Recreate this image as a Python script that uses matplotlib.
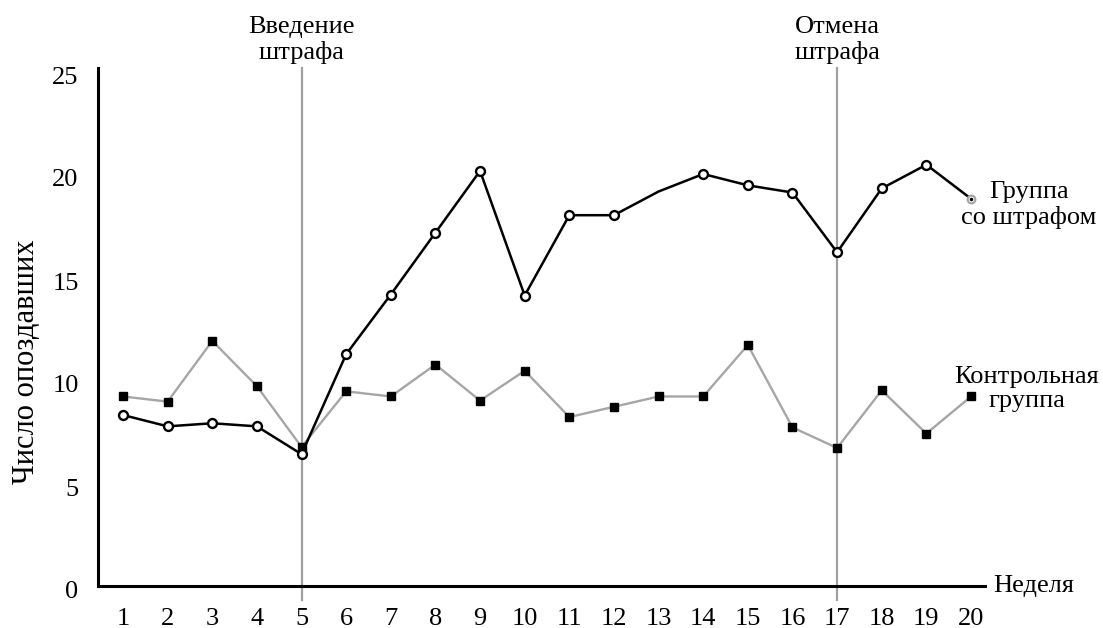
import matplotlib
matplotlib.use("Agg")
import matplotlib.pyplot as plt
import matplotlib.transforms as mtransforms

weeks = list(range(1, 21))
penalty_group = [8.3, 7.75, 7.9, 7.75, 6.4, 11.25, 14.15, 17.15, 20.15, 14.1,
                 18.0, 18.0, 19.15, 20.0, 19.45, 19.1, 16.2, 19.3, 20.45, 18.8]
control_group = [9.2, 8.95, 11.9, 9.7, 6.75, 9.45, 9.2, 10.75, 9.0, 10.45,
                 8.2, 8.7, 9.2, 9.2, 11.7, 7.7, 6.7, 9.5, 7.4, 9.2]
penalty_marked = [True] * 12 + [False] + [True] * 6 + [False]
y_ticks = [0, 5, 10, 15, 20, 25]
events = [5, 17]
event_labels = ["Введение\nштрафа", "Отмена\nштрафа"]
x_label = "Неделя"
y_label = "Число опоздавших"
series_labels = ["Группа\nсо штрафом", "Контрольная\nгруппа"]

plt.rcParams['font.family'] = ['Liberation Serif', 'DejaVu Serif']
FS = 19
LS = 1.15

W, H = 1103, 628
fig = plt.figure(figsize=(W / 100, H / 100), dpi=100)
left_px, right_px, top_px, bottom_px = 98, 985, 68, 586
ax = fig.add_axes([left_px / W, 1 - bottom_px / H,
                   (right_px - left_px) / W, (bottom_px - top_px) / H])

unit_x = (971 - 123) / 19.0
x0 = 1 - (123 - left_px) / unit_x
x1 = 1 + (right_px - 123) / unit_x
unit_y = 20.6
ax.set_xlim(x0, x1)
ax.set_ylim(0, (bottom_px - top_px) / unit_y)

for s in ['top', 'right']:
    ax.spines[s].set_visible(False)
for s in ['left', 'bottom']:
    ax.spines[s].set_linewidth(2.2)
    ax.spines[s].set_color('black')

ax.set_xticks(weeks)
ax.set_xticklabels([str(w) for w in weeks], fontsize=FS)
ax.set_yticks(y_ticks)
ax.set_yticklabels([str(v) for v in y_ticks], fontsize=FS)
ax.tick_params(axis='x', length=0, pad=16)
ax.tick_params(axis='y', length=0, pad=14)
shift = mtransforms.ScaledTranslation(0, -4 / 100, fig.dpi_scale_trans)
for lab in ax.get_yticklabels():
    lab.set_transform(lab.get_transform() + shift)

# event lines
ymin_ev = -14 / unit_y
for ev in events:
    ax.plot([ev, ev], [ymin_ev, ax.get_ylim()[1]], color='#a0a0a0', lw=1.6,
            zorder=1, clip_on=False)

grey = '#a6a6a6'
# control group
ax.plot(weeks, control_group, color=grey, lw=1.7, zorder=2, marker='s',
        ms=5.5, mfc='black', mec='black', clip_on=False)

# penalty group
ax.plot(weeks, penalty_group, color='black', lw=1.8, zorder=3, clip_on=False)
mx = [w for w, m in zip(weeks, penalty_marked) if m]
my = [v for v, m in zip(penalty_group, penalty_marked) if m]
ax.plot(mx, my, ls='none', marker='o', ms=6.4, mfc='white', mec='black',
        mew=1.7, zorder=4, clip_on=False)
ax.plot(weeks[-1:], penalty_group[-1:], ls='none', marker='o', ms=5.5,
        mfc='white', mec=grey, mew=1.6, zorder=4, clip_on=False)
ax.plot(weeks[-1:], penalty_group[-1:], ls='none', marker='o', ms=1.5,
        mfc='black', mec='black', zorder=5, clip_on=False)

# event annotations
trans = mtransforms.blended_transform_factory(ax.transData, fig.transFigure)
for ev, lab in zip(events, event_labels):
    ax.text(ev, 1 - 40 / H, lab, transform=trans, ha='center', va='center',
            fontsize=FS, linespacing=LS)

# series labels
fig.text(1029 / W, 1 - 205 / H, series_labels[0], ha='center', va='center',
         fontsize=FS, linespacing=LS)
fig.text(1027 / W, 1 - 389 / H, series_labels[1], ha='center', va='center',
         fontsize=FS, linespacing=LS)

# axis labels
fig.text(993 / W, 1 - 586 / H, x_label, ha='left', va='center', fontsize=FS)
fig.text(27 / W, 1 - 362 / H, y_label, ha='center', va='center',
         rotation=90, fontsize=22)

fig.savefig('out.png', dpi=100)
